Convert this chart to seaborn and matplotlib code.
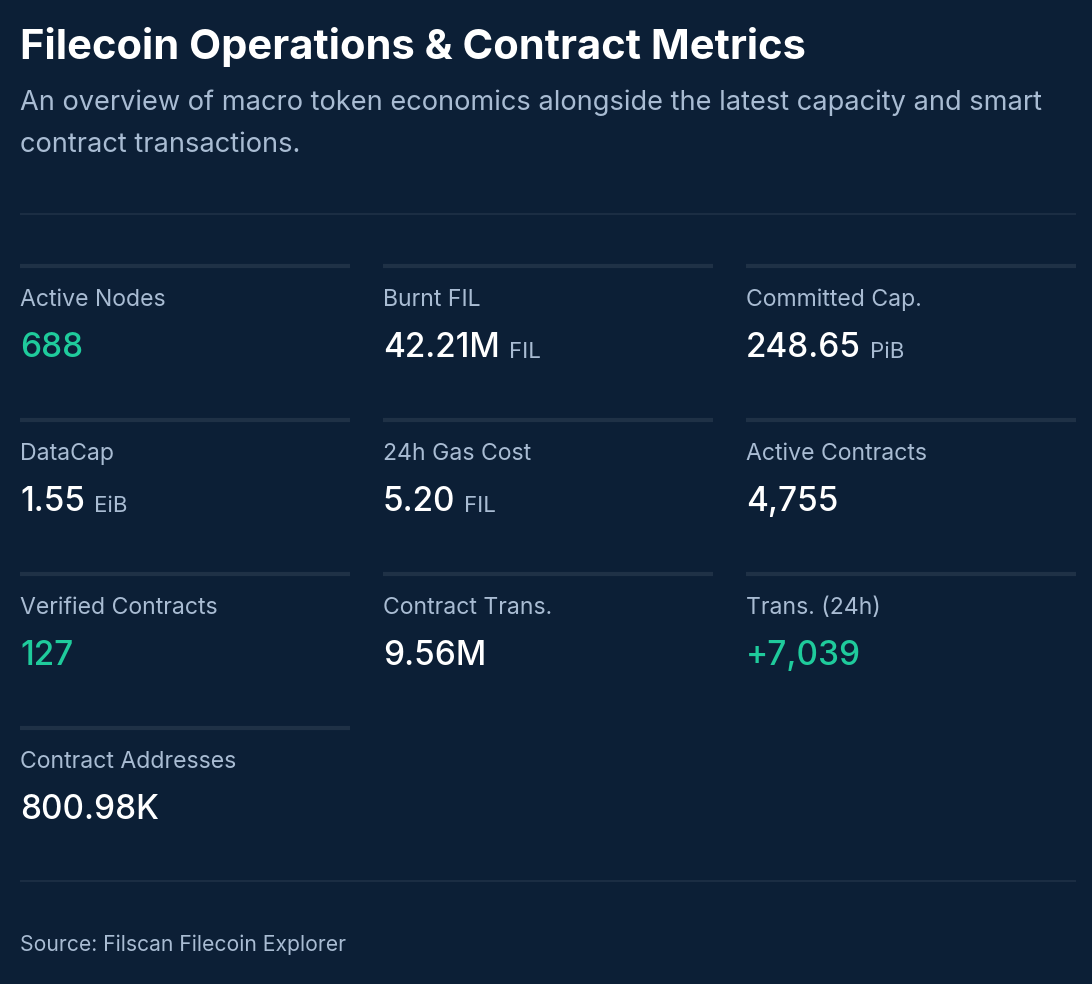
import matplotlib
matplotlib.use("Agg")
import matplotlib.pyplot as plt
import seaborn as sns

labels = ["Active Nodes", "Burnt FIL", "Committed Cap.",
          "DataCap", "24h Gas Cost", "Active Contracts",
          "Verified Contracts", "Contract Trans.", "Trans. (24h)",
          "Contract Addresses"]
values = ["688", "42.21M", "248.65", "1.55", "5.20", "4,755",
          "127", "9.56M", "+7,039", "800.98K"]
units = ["", "FIL", "PiB", "EiB", "FIL", "", "", "", "", ""]
highlight = [True, False, False, False, False, False, True, False, True, False]

BG = "#0c1f36"
GREEN = "#1fcb9c"
LABEL = "#a9bcd3"
LINE = "#1f3146"

sns.set_theme(style="white")
plt.rcParams["font.family"] = ["Inter", "DejaVu Sans"]

fig = plt.figure(figsize=(10.92, 9.84), dpi=100, facecolor=BG)
ax = fig.add_axes([0, 0, 1, 1])
ax.set_facecolor(BG)
ax.set_xlim(0, 1092)
ax.set_ylim(984, 0)
ax.axis("off")

ax.text(20, 47, "Filecoin Operations & Contract Metrics", color="white",
        fontsize=30, fontweight="bold", va="center")
ax.text(20, 103, "An overview of macro token economics alongside the latest capacity and smart",
        color=LABEL, fontsize=19.6, va="center")
ax.text(20, 145, "contract transactions.", color=LABEL, fontsize=19.6, va="center")

ax.hlines([214, 881], 20, 1076, color=LINE, lw=1.2)

col_x = [20, 383, 746]
card_w = 330
row_y = [266, 420, 574, 728]

fig.canvas.draw()
renderer = fig.canvas.get_renderer()
inv = ax.transData.inverted()

for i, (lab, val, unit, hi) in enumerate(zip(labels, values, units, highlight)):
    x = col_x[i % 3]
    y = row_y[i // 3]
    ax.hlines(y, x, x + card_w, color=LINE, lw=3)
    ax.text(x, y + 34, lab, color=LABEL, fontsize=16.6, va="center")
    t = ax.text(x, y + 82, val, color=GREEN if hi else "white", fontsize=24,
                fontweight="medium", va="center")
    if unit:
        bb = t.get_window_extent(renderer=renderer)
        x1 = inv.transform((bb.x1, bb.y0))[0]
        ax.text(x1 + 9, y + 86, unit, color=LABEL, fontsize=16, va="center")

ax.text(20, 945, "Source: Filscan Filecoin Explorer", color=LABEL, fontsize=15.2, va="center")

fig.savefig("out.png", dpi=100, facecolor=BG)
